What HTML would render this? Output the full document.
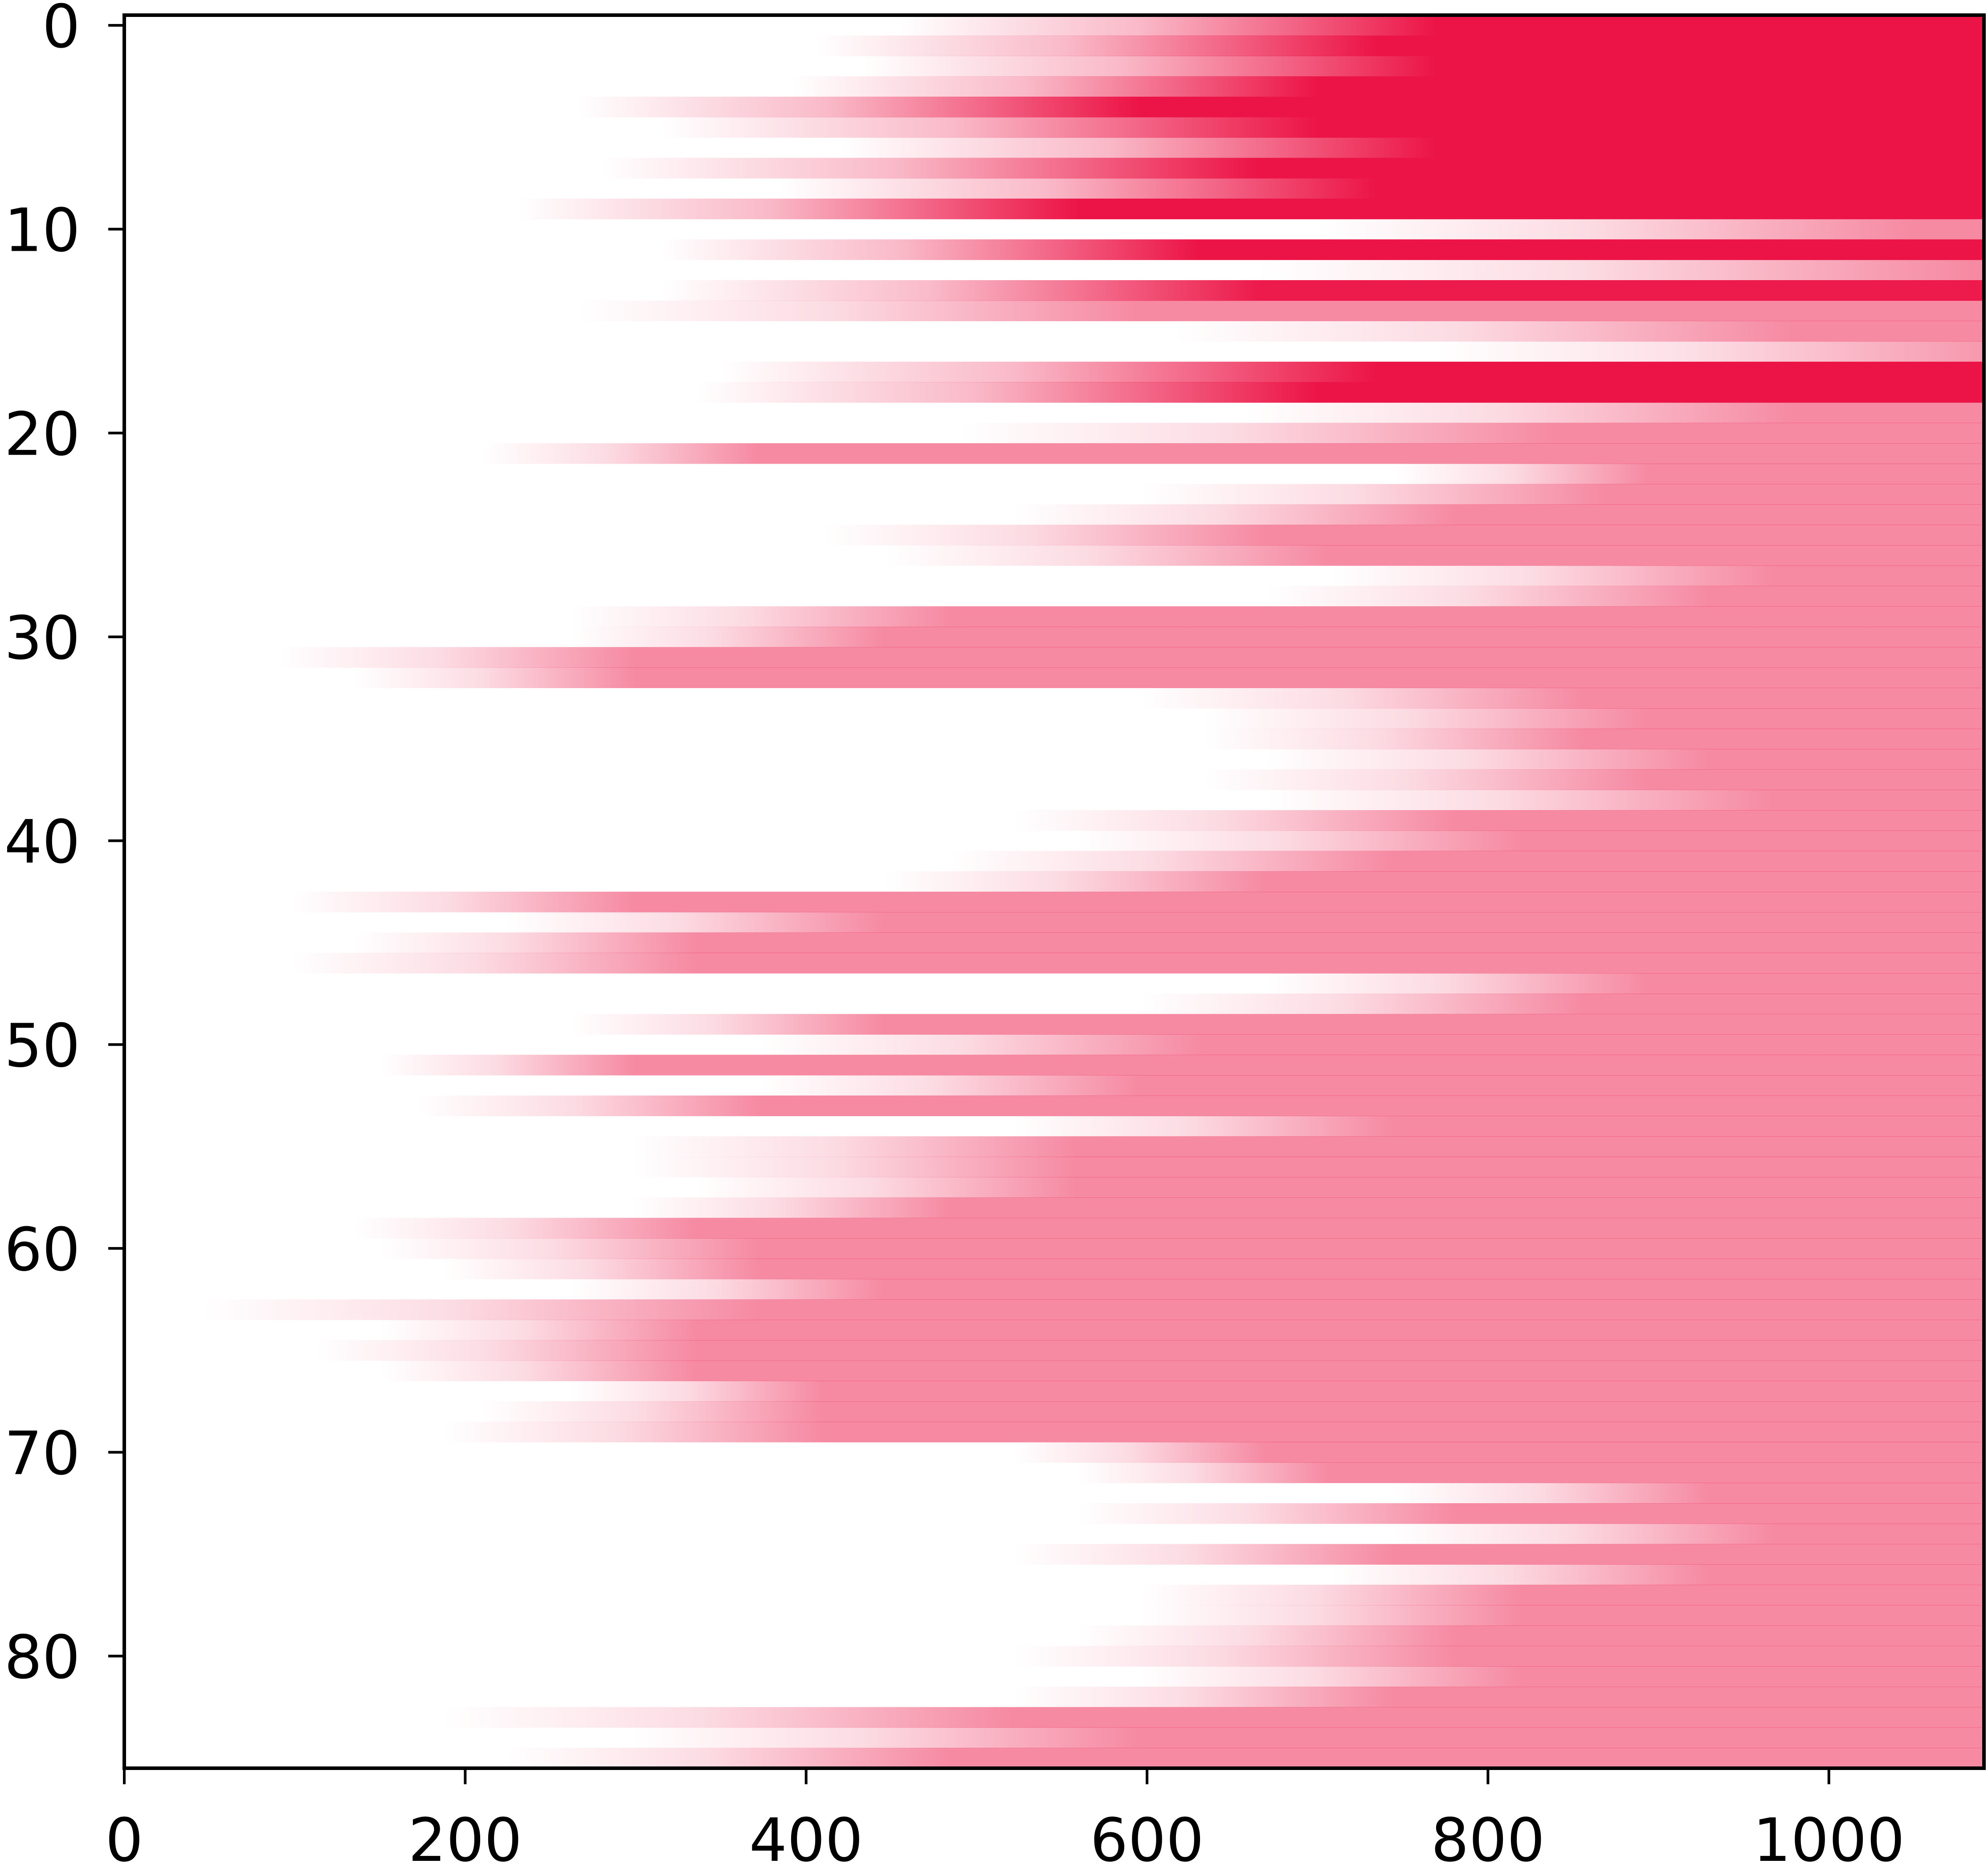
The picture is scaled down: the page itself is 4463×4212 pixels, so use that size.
<!DOCTYPE html>
<html><head><meta charset="utf-8"><style>
html,body{margin:0;padding:0;background:#fff;}
svg{display:block;}
text{font-family:"DejaVu Sans","Liberation Sans",sans-serif;font-size:134px;fill:#000;}
</style></head><body>
<svg id="chart" width="4463" height="4212" viewBox="0 0 4463 4212" xmlns="http://www.w3.org/2000/svg">
<defs id="defs"></defs>
<g id="cells"></g>
<g id="axes"></g>
</svg>
<script>
// Onset of fade-in (x units), point of full intensity, and intensity level per row
const rowStart=[455,406,434,392,266,315,420,280,385,231,700,315,665,315,266,616,770,350,336,658,490,210,746,596,522,410,446,708,670,262,262,91,135,596,633,633,670,633,670,522,559,485,446,98,224,135,98,670,596,262,373,150,373,172,522,298,298,336,298,135,150,187,262,46,150,112,150,262,210,187,522,559,745,559,745,522,708,596,596,559,522,596,522,187,298,224];
const rowFull=[770,735,770,700,595,700,770,665,735,560,1050,630,1085,665,595,980,1097,735,700,980,840,372,894,870,782,670,707,968,930,485,446,300,300,857,894,857,930,894,968,782,820,745,670,300,446,336,336,894,857,446,633,300,596,373,745,559,559,559,485,336,373,373,446,373,336,336,336,410,410,410,670,707,930,782,968,745,930,820,820,782,782,820,745,522,596,485];
const rowLevel=[1,1,1,1,1,1,1,1,1,1,0.5,1,0.5,0.97,0.5,0.5,0.45,1,1,0.5,0.5,0.5,0.5,0.5,0.5,0.5,0.5,0.5,0.5,0.5,0.5,0.5,0.5,0.5,0.5,0.5,0.5,0.5,0.5,0.5,0.5,0.5,0.5,0.5,0.5,0.5,0.5,0.5,0.5,0.5,0.5,0.5,0.5,0.5,0.5,0.5,0.5,0.5,0.5,0.5,0.5,0.5,0.5,0.5,0.5,0.5,0.5,0.5,0.5,0.5,0.5,0.5,0.5,0.5,0.5,0.5,0.5,0.5,0.5,0.5,0.5,0.5,0.5,0.5,0.5,0.5];
const xTicks=[0,200,400,600,800,1000];
const yTicks=[0,10,20,30,40,50,60,70,80];

const NS="http://www.w3.org/2000/svg";
const L=279,R=4454,T=34,B=3970;
const XMAX=1091, NROWS=rowStart.length;
const xs=v=>L+(v/XMAX)*(R-L);
const ys=r=>T+((r+0.5)/NROWS)*(B-T);
const rowH=(B-T)/NROWS;
const defs=document.getElementById('defs');
const cells=document.getElementById('cells');
const axes=document.getElementById('axes');
function mk(tag,attrs,parent){const e=document.createElementNS(NS,tag);for(const k in attrs)e.setAttribute(k,attrs[k]);parent.appendChild(e);return e;}

for(let r=0;r<NROWS;r++){
  const g=mk('linearGradient',{id:'g'+r,gradientUnits:'userSpaceOnUse',x1:xs(rowStart[r]),x2:xs(rowFull[r]),y1:0,y2:0},defs);
  mk('stop',{offset:0,'stop-color':'#ec1446','stop-opacity':0},g);
  mk('stop',{offset:0.45,'stop-color':'#ec1446','stop-opacity':0.3*rowLevel[r]},g);
  mk('stop',{offset:1,'stop-color':'#ec1446','stop-opacity':rowLevel[r]},g);
  const y0=ys(r)-rowH/2;
  const rect=mk('rect',{x:L,y:y0.toFixed(2),width:R-L,height:(rowH+0.6).toFixed(2),fill:'url(#g'+r+')'},cells);
  
  
}

const frame=mk('rect',{x:L,y:T,width:R-L,height:B-T,fill:'none',stroke:'#000','stroke-width':8},axes);



xTicks.forEach(v=>{
  const x=xs(v);
  const t=mk('line',{x1:x,x2:x,y1:B,y2:B+36,stroke:'#000','stroke-width':6},axes);
  
  
  const lb=mk('text',{x:x,y:4178,'text-anchor':'middle'},axes);
  lb.textContent=v;
  
  
});
yTicks.forEach(v=>{
  const y=ys(v);
  const t=mk('line',{x1:L,x2:L-36,y1:y,y2:y,stroke:'#000','stroke-width':6},axes);
  
  
  const lb=mk('text',{x:180,y:y+49,'text-anchor':'end'},axes);
  lb.textContent=v;
  
  
});
</script>
</body></html>
